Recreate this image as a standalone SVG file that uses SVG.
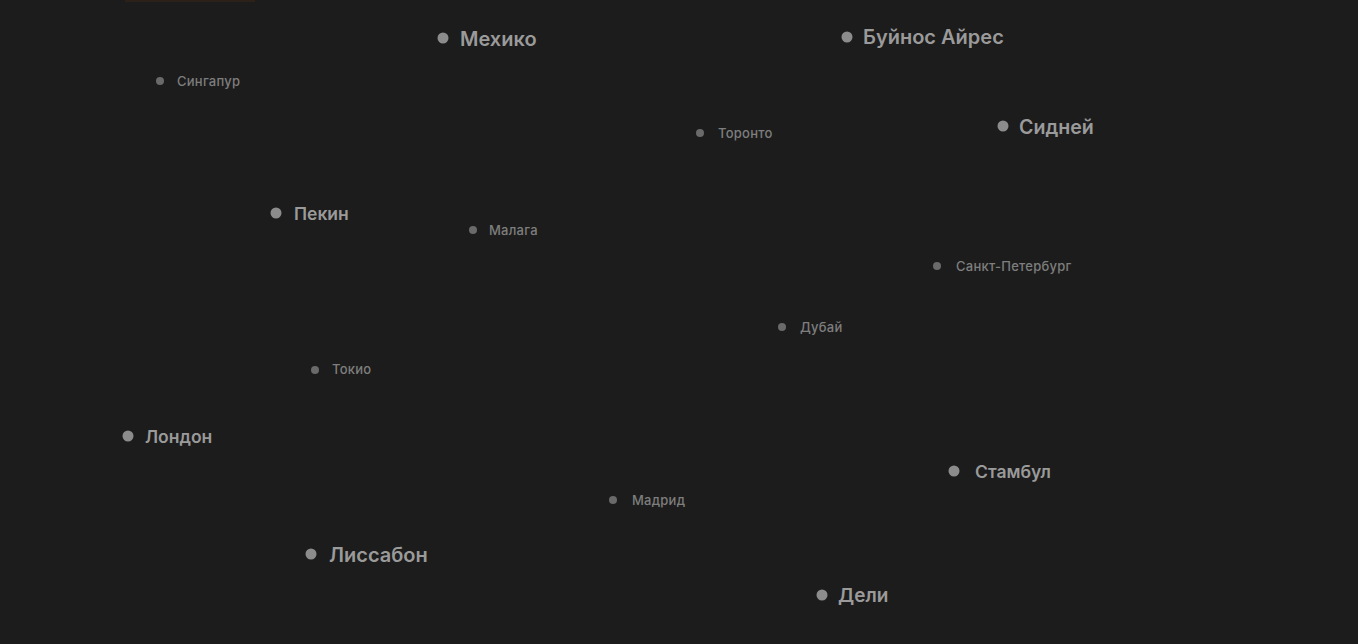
<svg xmlns="http://www.w3.org/2000/svg" width="1358" height="644" viewBox="0 0 1358 644">
<style>
.bg{fill:#1c1c1c}
.big circle{fill:#8c8c8c}
.big text{fill:#9a9a9a;font-family:Inter,"Liberation Sans",sans-serif;font-size:20px;font-weight:600;dominant-baseline:central}
.big text.m{font-size:17.5px}
.small circle{fill:#6a6a6a}
.small text{fill:#7e7e7e;font-family:Inter,"Liberation Sans",sans-serif;font-size:13px;font-weight:500;dominant-baseline:central;letter-spacing:0.25px}
</style>
<rect class="bg" x="0" y="0" width="1358" height="644"/>
<rect x="125" y="0" width="130" height="2" fill="#2b2119"/>
<g id="connectors"></g>
<g id="mexico" class="big"><circle cx="443" cy="38" r="5.5"/><text x="460" y="39">Мехико</text></g>
<g id="buenos-aires" class="big"><circle cx="847" cy="37" r="5.5"/><text x="863" y="37">Буйнос Айрес</text></g>
<g id="sydney" class="big"><circle cx="1003" cy="126" r="5.5"/><text x="1019" y="127" style="font-size:19.6px">Сидней</text></g>
<g id="beijing" class="big"><circle cx="276" cy="213" r="5.5"/><text class="m" x="294" y="213">Пекин</text></g>
<g id="london" class="big"><circle cx="128" cy="436" r="5.5"/><text class="m" x="145" y="436">Лондон</text></g>
<g id="istanbul" class="big"><circle cx="954" cy="471" r="5.5"/><text class="m" x="975" y="471">Стамбул</text></g>
<g id="lisbon" class="big"><circle cx="311" cy="554" r="5.5"/><text x="329" y="555">Лиссабон</text></g>
<g id="delhi" class="big"><circle cx="822" cy="595" r="5.5"/><text x="838" y="595" style="font-size:19px">Дели</text></g>
<g id="singapore" class="small"><circle cx="160" cy="81" r="4"/><text x="177" y="81">Сингапур</text></g>
<g id="toronto" class="small"><circle cx="700" cy="133" r="4"/><text x="718" y="133">Торонто</text></g>
<g id="malaga" class="small"><circle cx="473" cy="230" r="4"/><text x="489" y="230">Малага</text></g>
<g id="spb" class="small"><circle cx="937" cy="266" r="4"/><text x="956" y="266">Санкт-Петербург</text></g>
<g id="dubai" class="small"><circle cx="782" cy="327" r="4"/><text x="800" y="327">Дубай</text></g>
<g id="tokyo" class="small"><circle cx="315" cy="370" r="4"/><text x="332" y="369">Токио</text></g>
<g id="madrid" class="small"><circle cx="613" cy="500" r="4"/><text x="632" y="500">Мадрид</text></g>
</svg>
